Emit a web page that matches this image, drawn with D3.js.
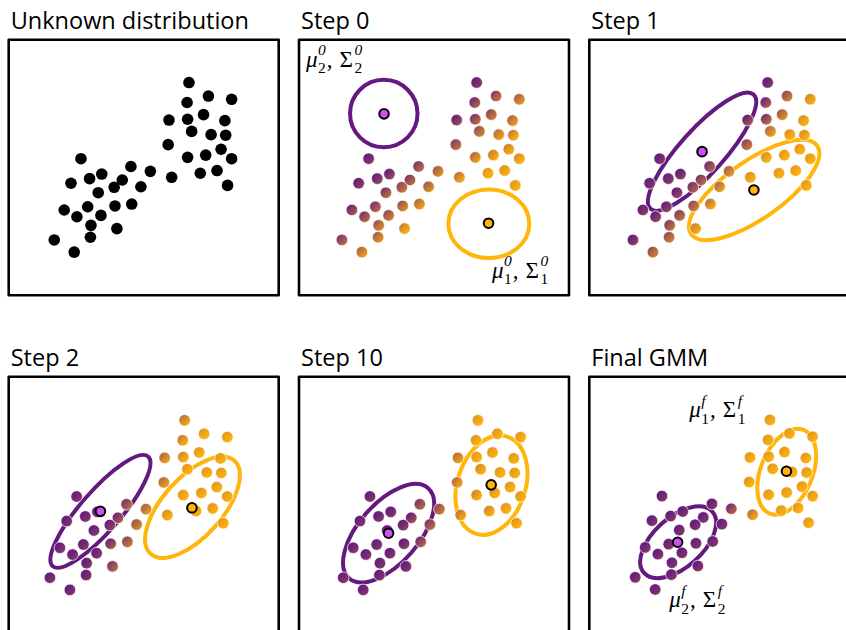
<!DOCTYPE html>
<html><head><meta charset="utf-8">
<script src="https://cdn.jsdelivr.net/npm/d3@7"></script>
<style>body{margin:0;background:#fff}svg{display:block}</style>
</head><body><svg id="c" width="846" height="630"></svg>
<script>
// ---- data ----
const titles = ["Unknown distribution", "Step 0", "Step 1", "Step 2", "Step 10", "Final GMM"];
const pointsX = [6.58,7.30,8.16,6.51,5.84,6.53,7.12,7.91,6.68,7.40,7.94,5.81,7.77,6.53,7.20,8.16,7.62,7.00,8.01,5.94,5.15,4.43,2.58,3.35,2.90,4.11,2.21,3.81,4.80,3.22,1.96,2.83,3.84,4.46,2.43,3.32,2.95,3.91,2.93,1.59,2.33];
const pointsY = [7.88,7.38,7.26,7.14,6.49,6.52,6.69,6.47,6.07,5.95,5.93,5.58,5.41,5.11,5.19,5.06,4.62,4.52,4.07,4.37,4.59,4.77,5.06,4.49,4.32,4.27,4.15,4.00,4.02,3.80,3.16,3.28,3.31,3.38,2.91,2.96,2.59,2.47,2.15,2.05,1.60];
// share of component 1 (orange) for each point, per step
const respStep0  = [.03,.42,.62,.27,.15,.35,.47,.67,.52,.72,.8,.4,.85,.7,.82,.95,.95,1,1,.75,.6,.35,.03,.15,.1,.37,.05,.45,.6,.35,.25,.35,.55,.7,.35,.5,.55,.85,.62,.35,.67];
const respStep1  = [0,.5,.9,.25,.2,.35,.6,.95,.7,.95,.95,.45,1,.95,1,1,1,1,1,.95,.65,.3,0,.05,.05,.35,0,.3,.7,.1,.05,.1,.5,.75,.1,.4,.4,.85,.5,.05,.5];
const respStep2  = [.75,1,1,.8,.7,.9,1,1,1,1,1,.7,1,1,1,1,1,1,1,.95,.65,.35,0,0,0,.25,0,.1,.55,0,0,0,.25,.45,0,0,0,.35,0,0,0];
const respStep10 = [1,1,1,1,.72,1,1,1,.92,1,1,.72,1,.88,1,1,1,.88,1,.78,.48,.35,0,0,0,.18,0,.05,.35,0,0,0,.05,.3,0,0,0,0,0,0,0];
const respFinal  = [1,1,1,1,1,1,1,1,1,1,1,1,1,1,1,1,1,1,1,.75,.3,0,0,0,0,0,0,0,0,0,0,0,0,0,0,0,0,0,0,0,0];
// ellipses per step: [cx, cy, semi-major, semi-minor, angle deg]
const steps = ["Step 0", "Step 1", "Step 2", "Step 10", "Final GMM"];
const ellipse1 = [[7.03,2.65,1.50,1.27,0],[6.08,3.90,2.85,1.07,35],[6.87,4.66,2.32,1.10,48],[7.08,5.48,1.89,1.26,72],[7.20,5.96,1.67,0.96,68]];
const ellipse2 = [[3.14,6.73,1.25,1.25,0],[4.15,5.32,2.85,0.82,48],[3.46,4.51,2.69,0.74,49],[3.27,3.70,2.22,1.11,48.7],[3.18,3.35,1.70,0.92,42]];
const mean1 = [[7.02,2.67],[6.07,3.90],[6.85,4.64],[7.07,5.49],[7.19,5.98]];
const mean2 = [[3.15,6.72],[4.15,5.32],[3.46,4.51],[3.27,3.70],[3.16,3.35]];
const labelSup = ["0", "f"];

// ---- layout ----
const svg = d3.select("#c");
const defs = svg.append("defs");
const boxW = 270, boxH = 255.5;
const x = d3.scaleLinear().domain([0, 10]).range([0, boxW]);
const y = d3.scaleLinear().domain([0, boxH / 27]).range([boxH, 0]);
const PURPLE = "#63197f", ORANGE = "#ffb50a", MAGENTA = "#d14ef5";
const mix = d3.interpolateRgb(PURPLE, ORANGE);
const panels = [
  {col:0,row:0,dx:2.6,dy:0},{col:1,row:0,dx:0,dy:0},{col:2,row:0,dx:0.7,dy:0},
  {col:0,row:1,dx:-1.7,dy:0.8},{col:1,row:1,dx:1.3,dy:0.8},{col:2,row:1,dx:3,dy:0.4}
];
const resps = [null, respStep0, respStep1, respStep2, respStep10, respFinal];
const gradIds = new Map();
function grad(r) {
  const k = Math.round(r * 100);
  if (gradIds.has(k)) return gradIds.get(k);
  const id = "g" + k;
  const lg = defs.append("linearGradient").attr("id", id)
    .attr("x1", 0).attr("y1", 0).attr("x2", 1).attr("y2", 1);
  lg.append("stop").attr("offset", 0.15).attr("stop-color", mix(Math.max(0, r - 0.2)));
  lg.append("stop").attr("offset", 0.85).attr("stop-color", mix(Math.min(1, r + 0.2)));
  gradIds.set(k, "url(#" + id + ")");
  return gradIds.get(k);
}
const pts = pointsX.map((v, i) => ({x: v, y: pointsY[i], i}));

function mathLabel(parent, x0, y0, sub, sup) {
  const t = parent.append("g").attr("font-family", "'Liberation Serif','DejaVu Serif',serif").attr("fill", "#000");
  let cx = x0;
  function put(str, size, dy, italic) {
    const el = t.append("text").attr("x", cx).attr("y", y0 + dy).attr("font-size", size)
      .attr("font-style", italic ? "italic" : "normal").text(str);
    return el.node().getComputedTextLength();
  }
  cx += put("μ", 23, 0, true) + 0.5;
  let a = put(sup, 15.5, -11.5, true), b = put(sub, 15.5, 6.5, false);
  cx += Math.max(a, b) + 1;
  cx += put(",", 23, 0, false) + 7;
  cx += put("Σ", 23, 0, false) + 1.5;
  put(sup, 15.5, -11.5, true); put(sub, 15.5, 6.5, false);
}

panels.forEach((p, pi) => {
  const bx = 8.7 + p.col * 290.3, by = 39.8 + p.row * 337;
  svg.append("text").attr("x", bx + 2).attr("y", by - 10.5)
    .attr("font-family", "'Open Sans','Noto Sans',sans-serif").attr("font-size", 23.5)
    .attr("fill", "#000").text(titles[pi]);
  const g = svg.append("g").attr("transform", `translate(${bx},${by})`);
  g.append("rect").attr("width", boxW).attr("height", boxH).attr("fill", "none")
    .attr("stroke", "#000").attr("stroke-width", 2.6).attr("stroke-linejoin", "round");
  const inner = g.append("g").attr("transform", `translate(${p.dx},${p.dy})`);
  const s = pi - 1;
  if (s >= 0) {
    [[ellipse1[s], ORANGE], [ellipse2[s], PURPLE]].forEach(([e, c]) => {
      inner.append("ellipse").attr("cx", x(e[0])).attr("cy", y(e[1]))
        .attr("rx", x(e[2]) - x(0)).attr("ry", x(e[3]) - x(0))
        .attr("transform", `rotate(${-e[4]},${x(e[0])},${y(e[1])})`)
        .attr("fill", "none").attr("stroke", c).attr("stroke-width", 4);
    });
  }
  inner.selectAll("circle.pt").data(pts).join("circle").attr("class", "pt")
    .attr("cx", d => x(d.x)).attr("cy", d => y(d.y)).attr("r", 5.8)
    .attr("fill", d => s < 0 ? "#000" : grad(resps[pi][d.i]))
    .attr("stroke", "#fff").attr("stroke-width", s < 0 ? 0 : 0.7);
  if (s >= 0) {
    [[mean1[s], ORANGE], [mean2[s], MAGENTA]].forEach(([m, c]) => {
      inner.append("circle").attr("cx", x(m[0])).attr("cy", y(m[1])).attr("r", 4.8)
        .attr("fill", c).attr("stroke", "#000").attr("stroke-width", 2);
    });
  }
  if (steps[s] === "Step 0") {
    mathLabel(g, 7, 27, "2", labelSup[0]);
    mathLabel(g, 193, 238, "1", labelSup[0]);
  }
  if (steps[s] === "Final GMM") {
    mathLabel(g, 100, 40.5, "1", labelSup[1]);
    mathLabel(g, 80, 230.5, "2", labelSup[1]);
  }
});
</script></body></html>
